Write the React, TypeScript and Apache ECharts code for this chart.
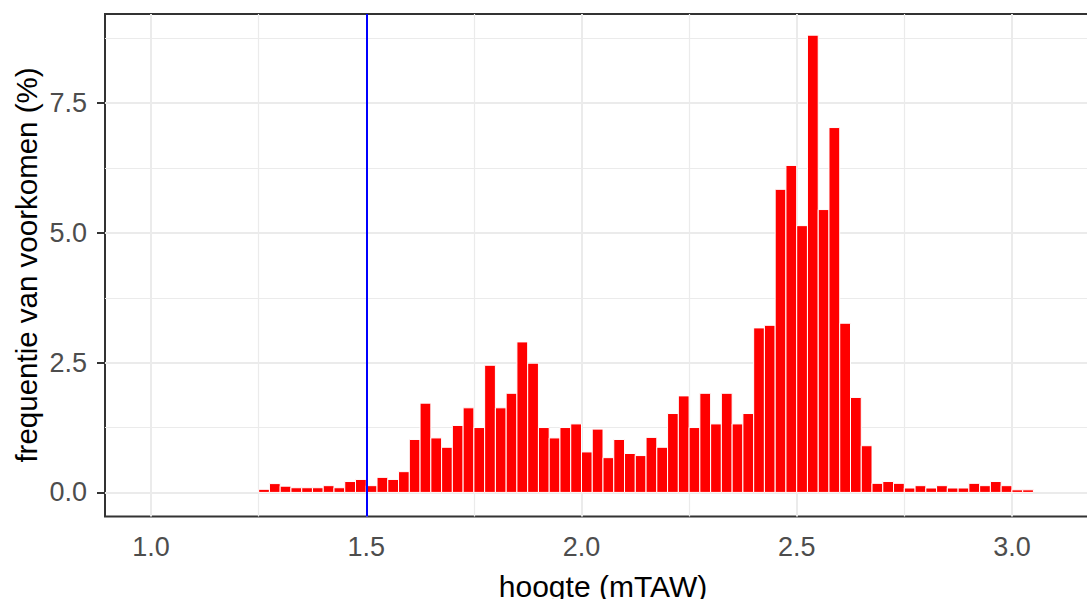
import React, { useEffect, useRef } from "react";
import * as echarts from "echarts";

// ---- data ----
const BIN_START = 1.25;
const BIN_WIDTH = 0.025;
// frequency (%) per bin, left to right
const frequencies: number[] = [
  0.06, 0.17, 0.12, 0.09, 0.09, 0.09, 0.13, 0.09, 0.21, 0.25,
  0.13, 0.29, 0.25, 0.4, 1.02, 1.72, 1.05, 0.87, 1.29, 1.63,
  1.25, 2.45, 1.63, 1.91, 2.9, 2.49, 1.25, 1.05, 1.25, 1.32,
  0.78, 1.22, 0.67, 1.02, 0.75, 0.71, 1.06, 0.87, 1.52, 1.86,
  1.25, 1.91, 1.32, 1.91, 1.32, 1.52, 3.17, 3.22, 5.84, 6.3,
  5.14, 8.81, 5.45, 7.03, 3.26, 1.83, 0.9, 0.175, 0.21, 0.175,
  0.085, 0.13, 0.085, 0.13, 0.085, 0.085, 0.175, 0.13, 0.21, 0.13,
  0.05, 0.05,
];
const xMajorTicks: number[] = [1.0, 1.5, 2.0, 2.5, 3.0];
const xMinorTicks: number[] = [1.25, 1.75, 2.25, 2.75];
const yMajorTicks: number[] = [0, 2.5, 5.0, 7.5];
const yMinorTicks: number[] = [1.25, 3.75, 6.25, 8.75];
const referenceLine = 1.5;
const xTitle = "hoogte (mTAW)";
const yTitle = "frequentie van voorkomen (%)";

const X_MIN = 0.893;
const X_MAX = 3.2;
const Y_MIN = -0.464;
const Y_MAX = 9.218;

const FONT = "'Liberation Sans', Arial, sans-serif";

export default function App() {
  const ref = useRef<HTMLDivElement>(null);

  useEffect(() => {
    if (!ref.current) return;
    const chart = echarts.init(ref.current, undefined, { renderer: "svg" });

    const barData = frequencies.map((v, i) => {
      const x0 = BIN_START + i * BIN_WIDTH;
      return [x0, x0 + BIN_WIDTH, v];
    });

    const majorStyle = { color: "#EBEBEB", width: 2, type: "solid" as const };
    const minorStyle = { color: "#EBEBEB", width: 1.2, type: "solid" as const };

    const gridLines = [
      ...xMinorTicks.map((v) => ({ xAxis: v, lineStyle: minorStyle })),
      ...yMinorTicks.map((v) => ({ yAxis: v, lineStyle: minorStyle })),
      ...xMajorTicks.map((v) => ({ xAxis: v, lineStyle: majorStyle })),
      ...yMajorTicks.map((v) => ({ yAxis: v, lineStyle: majorStyle })),
    ];

    chart.setOption({
      animation: false,
      backgroundColor: "#FFFFFF",
      textStyle: { fontFamily: FONT },
      grid: {
        left: 105,
        top: 14,
        width: 993,
        height: 502.5,
        outerBoundsMode: "none",
        show: true,
        borderColor: "#333333",
        borderWidth: 2,
        backgroundColor: "transparent",
      },
      xAxis: {
        type: "value",
        min: X_MIN,
        max: X_MAX,
        axisLine: { show: false },
        splitLine: { show: false },
        axisTick: {
          show: true,
          customValues: xMajorTicks,
          length: 7,
          lineStyle: { color: "#333333", width: 2 },
        },
        axisLabel: {
          customValues: xMajorTicks,
          formatter: (v: number) => v.toFixed(1),
          color: "#4D4D4D",
          fontSize: 27,
          fontFamily: FONT,
          margin: 17,
        },
      },
      yAxis: {
        type: "value",
        min: Y_MIN,
        max: Y_MAX,
        axisLine: { show: false },
        splitLine: { show: false },
        axisTick: {
          show: true,
          customValues: yMajorTicks,
          length: 8,
          lineStyle: { color: "#333333", width: 2 },
        },
        axisLabel: {
          customValues: yMajorTicks,
          formatter: (v: number) => v.toFixed(1),
          color: "#4D4D4D",
          fontSize: 27,
          fontFamily: FONT,
          margin: 18,
        },
      },
      graphic: [
        {
          type: "text",
          x: 603,
          y: 586,
          style: {
            text: xTitle,
            fill: "#000000",
            font: `30px ${FONT}`,
            align: "center",
            verticalAlign: "middle",
          },
        },
        {
          type: "text",
          x: 26,
          y: 265,
          rotation: Math.PI / 2,
          style: {
            text: yTitle,
            fill: "#000000",
            font: `29.5px ${FONT}`,
            align: "center",
            verticalAlign: "middle",
          },
        },
      ],
      series: [
        {
          name: "grid",
          type: "line",
          data: [],
          silent: true,
          z: 1,
          markLine: {
            silent: true,
            symbol: "none",
            z: 1,
            animation: false,
            label: { show: false },
            emphasis: { disabled: true },
            data: gridLines,
          },
        },
        {
          name: "frequentie",
          type: "custom",
          z: 2,
          silent: true,
          data: barData,
          encode: { x: [0, 1], y: 2 },
          renderItem: (params: any, api: any) => {
            const x0 = api.value(0);
            const x1 = api.value(1);
            const v = api.value(2);
            const p0 = api.coord([x0, v]);
            const p1 = api.coord([x1, 0]);
            return {
              type: "rect",
              shape: {
                x: p0[0],
                y: p0[1],
                width: p1[0] - p0[0],
                height: p1[1] - p0[1],
              },
              style: { fill: "#FF0000", stroke: "#FFFFFF", lineWidth: 1 },
            };
          },
        },
        {
          name: "ref",
          type: "line",
          data: [],
          silent: true,
          z: 3,
          markLine: {
            silent: true,
            symbol: "none",
            z: 10,
            animation: false,
            label: { show: false },
            emphasis: { disabled: true },
            lineStyle: { color: "#0000FF", width: 2, type: "solid" },
            data: [{ xAxis: referenceLine }],
          },
        },
      ],
    });

    return () => chart.dispose();
  }, []);

  return (
    <div
      ref={ref}
      style={{ position: "fixed", left: 0, top: 0, width: 1087, height: 599 }}
    />
  );
}
